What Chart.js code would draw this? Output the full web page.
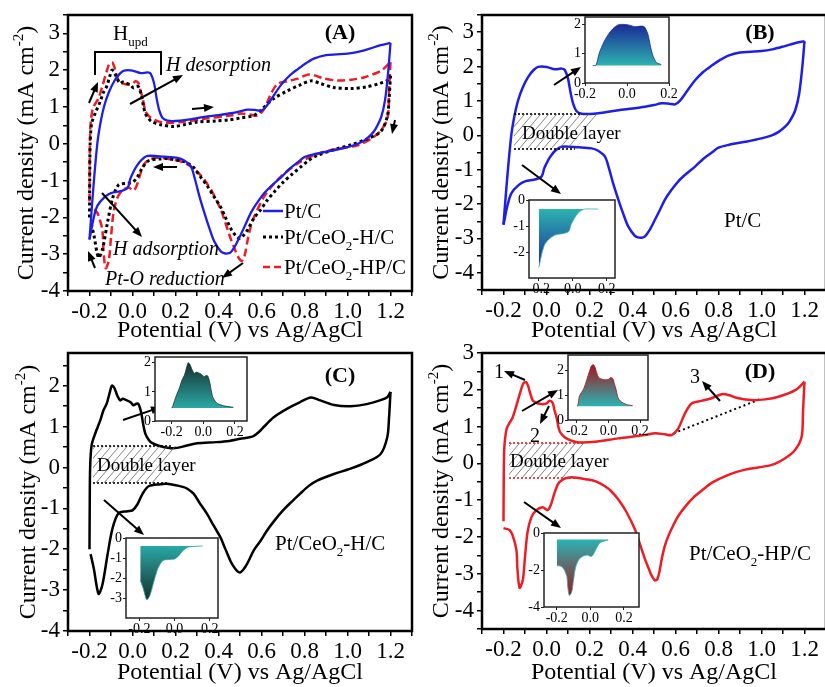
<!DOCTYPE html>
<html>
<head>
<meta charset="utf-8">
<script src="https://cdn.jsdelivr.net/npm/chart.js@4.4.1/dist/chart.umd.min.js"></script>
<style>
html,body{margin:0;padding:0;background:#fff;}
body{width:825px;height:687px;overflow:hidden;position:relative;}
canvas{position:absolute;}
</style>
</head>
<body>
<canvas id="cA"></canvas>
<canvas id="cB"></canvas>
<canvas id="cC"></canvas>
<canvas id="cD"></canvas>
<canvas id="iB1"></canvas>
<canvas id="iB2"></canvas>
<canvas id="iC1"></canvas>
<canvas id="iC2"></canvas>
<canvas id="iD1"></canvas>
<canvas id="iD2"></canvas>
<script>
// ---------------- DATA (potential E in V vs Ag/AgCl, current density J in mA cm^-2) ----------------
// Pt/C : anodic (forward) scan
const ptcFwdE = [-0.2,-0.19,-0.178,-0.163,-0.148,-0.132,-0.11,-0.085,-0.06,-0.039,0.0,0.039,0.07,0.085,0.1,0.113,0.125,0.14,0.163,0.2,0.25,0.334,0.4,0.458,0.5,0.536,0.57,0.598,0.62,0.645,0.691,0.73,0.769,0.81,0.846,0.9,0.95,1.0,1.05,1.1,1.155,1.2];
const ptcFwdJ = [-2.6,-1.8,-0.9,0.04,0.6,1.02,1.4,1.7,1.9,1.99,1.99,1.92,1.94,1.9,1.65,1.21,0.9,0.7,0.63,0.62,0.65,0.73,0.78,0.83,0.88,0.93,0.92,0.9,1.0,1.21,1.6,1.85,2.03,2.2,2.32,2.41,2.43,2.45,2.5,2.58,2.68,2.74];
// Pt/C : cathodic (reverse) scan
const ptcRevE = [1.2,1.19,1.175,1.157,1.13,1.11,1.08,1.048,1.0,0.924,0.846,0.8,0.769,0.73,0.691,0.65,0.613,0.58,0.551,0.525,0.505,0.48,0.458,0.443,0.425,0.41,0.38,0.355,0.334,0.31,0.29,0.272,0.24,0.21,0.15,0.07,0.04,0.02,0.008,-0.01,-0.023,-0.05,-0.1,-0.13,-0.163,-0.18,-0.2];
const ptcRevJ = [2.74,2.0,1.2,0.73,0.4,0.25,0.1,0.0,-0.09,-0.19,-0.28,-0.36,-0.5,-0.68,-0.91,-1.12,-1.34,-1.6,-1.87,-2.2,-2.45,-2.75,-2.94,-2.98,-2.97,-2.92,-2.65,-2.25,-1.87,-1.4,-0.95,-0.62,-0.45,-0.38,-0.35,-0.33,-0.45,-0.6,-0.72,-0.95,-1.2,-1.28,-1.34,-1.45,-1.68,-2.0,-2.6];
// Pt/CeO2-H/C
const hcFwdE = [-0.2,-0.199,-0.197,-0.19,-0.172,-0.15,-0.135,-0.12,-0.105,-0.096,-0.085,-0.07,-0.057,-0.045,-0.034,-0.01,0.005,0.018,0.028,0.04,0.05,0.06,0.075,0.09,0.13,0.19,0.25,0.3,0.39,0.45,0.5,0.56,0.59,0.61,0.657,0.72,0.78,0.83,0.874,0.937,1.014,1.09,1.15,1.185,1.2];
const hcFwdJ = [-2.0,-1.0,0.0,0.55,0.85,1.15,1.4,1.56,1.85,2.0,1.95,1.75,1.64,1.68,1.66,1.6,1.52,1.56,1.55,1.35,1.05,0.82,0.68,0.6,0.52,0.47,0.53,0.59,0.62,0.65,0.7,0.76,0.88,0.99,1.23,1.44,1.6,1.71,1.64,1.53,1.5,1.55,1.64,1.72,1.85];
const hcRevE = [1.2,1.193,1.185,1.154,1.09,1.014,0.937,0.859,0.82,0.78,0.74,0.7,0.66,0.626,0.595,0.564,0.533,0.515,0.5,0.486,0.47,0.455,0.43,0.409,0.375,0.346,0.31,0.284,0.255,0.238,0.16,0.13,0.075,0.046,0.023,0.0,-0.023,-0.065,-0.093,-0.116,-0.14,-0.158,-0.18,-0.195];
const hcRevJ = [1.85,1.2,0.74,0.33,0.13,-0.03,-0.16,-0.32,-0.45,-0.64,-0.84,-1.05,-1.3,-1.54,-1.8,-2.03,-2.36,-2.5,-2.57,-2.53,-2.42,-2.28,-1.97,-1.71,-1.4,-1.13,-0.85,-0.64,-0.52,-0.48,-0.4,-0.41,-0.46,-0.65,-0.9,-1.05,-1.07,-1.12,-1.49,-2.13,-2.87,-3.09,-2.47,-2.12];
// Pt/CeO2-HP/C
const hpFwdE = [-0.2,-0.199,-0.197,-0.194,-0.185,-0.172,-0.158,-0.14,-0.12,-0.108,-0.095,-0.085,-0.079,-0.065,-0.05,-0.033,-0.015,0.0,0.014,0.028,0.037,0.047,0.06,0.075,0.093,0.12,0.153,0.225,0.334,0.458,0.505,0.551,0.582,0.613,0.644,0.675,0.72,0.768,0.815,0.846,0.893,0.955,1.017,1.079,1.157,1.2];
const hpFwdJ = [-1.57,-0.5,0.3,0.6,0.95,1.1,1.24,1.57,1.97,2.17,2.21,2.1,1.97,1.72,1.65,1.62,1.61,1.63,1.7,1.65,1.45,1.24,0.89,0.76,0.68,0.61,0.57,0.59,0.68,0.77,0.82,0.79,0.77,0.95,1.36,1.63,1.7,1.77,1.88,1.86,1.77,1.72,1.74,1.81,1.99,2.22];
const hpRevE = [1.2,1.193,1.187,1.157,1.11,1.048,0.924,0.846,0.768,0.73,0.69,0.65,0.613,0.59,0.567,0.55,0.536,0.525,0.515,0.505,0.489,0.475,0.458,0.435,0.411,0.37,0.334,0.3,0.272,0.235,0.194,0.107,0.06,0.037,0.02,0.005,-0.018,-0.047,-0.07,-0.088,-0.1,-0.11,-0.125,-0.135,-0.14,-0.158,-0.172,-0.2];
const hpRevJ = [2.22,1.4,0.73,0.37,0.14,-0.04,-0.17,-0.31,-0.53,-0.7,-0.89,-1.14,-1.43,-1.68,-1.97,-2.25,-2.6,-2.95,-3.15,-3.18,-3.05,-2.85,-2.6,-2.2,-1.79,-1.3,-0.98,-0.75,-0.62,-0.5,-0.44,-0.38,-0.51,-0.81,-1.13,-1.27,-1.19,-1.27,-1.46,-1.86,-2.54,-3.16,-3.38,-2.89,-2.35,-1.95,-1.81,-1.76];
// baseline guide (peak 3) in panel D
const hpBaseE = [0.57, 1.0];
const hpBaseJ = [0.77, 1.76];
// tick labels
const mainXTickLabels = ['-0.2','0.0','0.2','0.4','0.6','0.8','1.0','1.2'];
const insetXTicks = [-0.2, 0.0, 0.2];

// ---------------- helpers ----------------
const FONT = "'Liberation Serif','Times New Roman',serif";
const BLUE = '#1e1ee8', RED = '#ee1c24', BLACK = '#000000';

function pts(E, J) { return E.map((e, i) => ({ x: e, y: J[i] })); }

function rich(ctx, x, cy, segs, size, style, align) {
  const f = s => (style ? style + ' ' : '') + s + 'px ' + FONT;
  let w = 0;
  const parts = segs.map(([t, k]) => {
    const s = k ? Math.round(size * 0.62) : size;
    ctx.font = f(s);
    const tw = ctx.measureText(t).width;
    w += tw;
    return { t, k, s, tw };
  });
  let cx = align === 'center' ? x - w / 2 : x;
  const base = cy + size * 0.34;
  ctx.textBaseline = 'alphabetic'; ctx.textAlign = 'left'; ctx.fillStyle = '#000';
  for (const p of parts) {
    ctx.font = f(p.s);
    const dy = p.k === 1 ? size * 0.28 : (p.k === 2 ? -size * 0.42 : 0);
    ctx.fillText(p.t, cx, base + dy);
    cx += p.tw;
  }
}

function arrow(ctx, x1, y1, x2, y2) {
  const a = Math.atan2(y2 - y1, x2 - x1), head = 10, hw = 4;
  ctx.save();
  ctx.setLineDash([]);
  ctx.strokeStyle = '#000'; ctx.fillStyle = '#000'; ctx.lineWidth = 2;
  ctx.beginPath(); ctx.moveTo(x1, y1); ctx.lineTo(x2 - head * 0.8 * Math.cos(a), y2 - head * 0.8 * Math.sin(a)); ctx.stroke();
  ctx.beginPath();
  ctx.moveTo(x2, y2);
  ctx.lineTo(x2 - head * Math.cos(a) + hw * Math.sin(a), y2 - head * Math.sin(a) - hw * Math.cos(a));
  ctx.lineTo(x2 - head * Math.cos(a) - hw * Math.sin(a), y2 - head * Math.sin(a) + hw * Math.cos(a));
  ctx.closePath(); ctx.fill();
  ctx.restore();
}

function hatch(ctx, L, top, bottom, Rtop, Rbot) {
  ctx.save();
  ctx.beginPath();
  ctx.moveTo(L, bottom); ctx.lineTo(Rbot, bottom); ctx.lineTo(Rtop, top); ctx.lineTo(L, top); ctx.closePath();
  ctx.clip();
  ctx.strokeStyle = '#666'; ctx.lineWidth = 0.8; ctx.setLineDash([]);
  const h = bottom - top;
  for (let x = L - h; x < Rtop + 10; x += 8) {
    ctx.beginPath(); ctx.moveTo(x, bottom); ctx.lineTo(x + h * 0.85, top); ctx.stroke();
  }
  ctx.restore();
}

function hline(ctx, x1, x2, y, color) {
  ctx.save(); ctx.strokeStyle = color; ctx.lineWidth = 1.6; ctx.setLineDash([2, 2]);
  ctx.beginPath(); ctx.moveTo(x1, y); ctx.lineTo(x2, y); ctx.stroke(); ctx.restore();
}

function legendLine(ctx, x1, x2, y, color, dash, w) {
  ctx.save(); ctx.strokeStyle = color; ctx.lineWidth = w; ctx.setLineDash(dash);
  ctx.beginPath(); ctx.moveTo(x1, y); ctx.lineTo(x2, y); ctx.stroke(); ctx.restore();
}

function yTitle(ctx, x, cy) {
  ctx.save(); ctx.translate(x, cy); ctx.rotate(-Math.PI / 2);
  rich(ctx, 0, 0, [['Current density (mA cm', 0], ['-2', 2], [')', 0]], 24, '', 'center');
  ctx.restore();
}
function xTitle(ctx, cx, cy) {
  rich(ctx, cx, cy, [['Potential (V) vs Ag/AgCl', 0]], 24, '', 'center');
}

function lineDs(E, J, color, width, dash) {
  return { data: pts(E, J), showLine: true, borderColor: color, borderWidth: width, borderDash: dash || [],
           pointRadius: 0, pointHoverRadius: 0, tension: 0.3, fill: false, borderCapStyle: 'butt', borderJoinStyle: 'round' };
}

const framePlugin = {
  id: 'frame',
  afterDatasetsDraw(ch) {
    const a = ch.chartArea, c = ch.ctx;
    c.save(); c.strokeStyle = '#000'; c.lineWidth = 2.5; c.setLineDash([]);
    c.strokeRect(a.left, a.top, a.right - a.left, a.bottom - a.top); c.restore();
  }
};

function xLab(v) {
  const k = Math.round(v * 10);
  if (k % 2 !== 0 || k < -2 || k > 12) return '';
  return mainXTickLabels[(k + 2) / 2];
}
function yLab(v) {
  const r = Math.round(v);
  return Math.abs(v - r) < 1e-6 ? String(r === 0 ? 0 : r) : '';
}

function makeMain(id, p) {
  const el = document.getElementById(id);
  el.width = p.w; el.height = p.h;
  el.style.left = p.left + 'px'; el.style.top = p.top + 'px';
  const grid = { display: true, drawOnChartArea: false, drawTicks: true, tickLength: 5, color: '#000', lineWidth: 1.5 };
  return new Chart(el, {
    type: 'scatter',
    data: { datasets: p.datasets },
    options: {
      responsive: false, animation: false, devicePixelRatio: 1,
      layout: { padding: { top: p.padTop, right: p.padRight, left: 0, bottom: 0 } },
      plugins: { legend: { display: false }, tooltip: { enabled: false }, title: { display: false } },
      scales: {
        x: {
          type: 'linear', min: -0.3, max: 1.3, position: 'bottom',
          afterFit: s => { s.height = p.xH; s.paddingLeft = 0; s.paddingRight = 0; },
          ticks: { stepSize: 0.1, autoSkip: false, maxRotation: 0, minRotation: 0, includeBounds: false,
                   color: '#000', font: { family: FONT, size: 23 }, padding: 2, callback: xLab },
          grid: grid, border: { display: false }
        },
        y: {
          type: 'linear', min: p.yMin, max: p.yMax, position: 'left',
          afterFit: s => { s.width = p.yW; s.paddingTop = 0; s.paddingBottom = 0; },
          ticks: { stepSize: 0.5, autoSkip: false, includeBounds: false,
                   color: '#000', font: { family: FONT, size: 23 }, padding: 3, callback: yLab },
          grid: grid, border: { display: false }
        }
      }
    },
    plugins: [framePlugin, {
      id: 'ann',
      afterDraw(ch) {
        const c = ch.ctx; c.save(); c.translate(-p.left, -p.top);
        const a = ch.chartArea;
        yTitle(c, p.titleX, p.top + (a.top + a.bottom) / 2);
        xTitle(c, p.left + (a.left + a.right) / 2, p.titleY);
        p.ann(c);
        c.restore();
      }
    }]
  });
}

// inset: filled region of a scan branch between x0..x1, clipped to baseline
function segment(E, J, x0, x1, base, above) {
  const out = [];
  E.forEach((e, i) => {
    if (e >= x0 && e <= x1) out.push({ x: e, y: above ? Math.max(J[i], base) : Math.min(J[i], base) });
  });
  return out;
}

function makeInset(id, s) {
  const padL = 26, padT = 7, padR = 14, padB = 22;
  const el = document.getElementById(id);
  el.width = (s.R - s.L) + padL + padR; el.height = (s.B - s.T) + padT + padB;
  el.style.left = (s.L - padL) + 'px'; el.style.top = (s.T - padT) + 'px';
  const grid = { display: true, drawOnChartArea: false, drawTicks: true, tickLength: 3, color: '#222', lineWidth: 1 };
  return new Chart(el, {
    type: 'scatter',
    data: { datasets: [{
      data: s.data, showLine: true, pointRadius: 0, tension: 0.25,
      borderWidth: 0.8, borderColor: s.above ? s.dark : s.teal,
      fill: { value: s.base },
      backgroundColor: ctx => {
        const ch = ctx.chart;
        if (!ch.chartArea || !ch.scales.y) return s.teal;
        const ys = ch.scales.y;
        const ext = s.above ? Math.max(...s.data.map(d => d.y)) : Math.min(...s.data.map(d => d.y));
        const g = ch.ctx.createLinearGradient(0, ys.getPixelForValue(ext), 0, ys.getPixelForValue(s.base));
        g.addColorStop(0, s.dark); g.addColorStop(1, s.teal);
        return g;
      }
    }] },
    options: {
      responsive: false, animation: false, devicePixelRatio: 1,
      layout: { padding: { top: padT, right: padR, left: 0, bottom: 0 } },
      plugins: { legend: { display: false }, tooltip: { enabled: false } },
      scales: {
        x: { type: 'linear', min: s.xr[0], max: s.xr[1],
             afterFit: a => { a.height = padB; a.paddingLeft = 0; a.paddingRight = 0; },
             afterBuildTicks: a => { a.ticks = insetXTicks.map(v => ({ value: v })); },
             ticks: { autoSkip: false, maxRotation: 0, color: '#000', font: { family: FONT, size: 14 }, padding: 0,
                      callback: v => (Math.abs(v) < 1e-9 ? '0.0' : v.toFixed(1)) },
             grid: grid, border: { display: false } },
        y: { type: 'linear', min: s.yr[0], max: s.yr[1],
             afterFit: a => { a.width = padL; a.paddingTop = 0; a.paddingBottom = 0; },
             afterBuildTicks: a => { a.ticks = s.yT.map(v => ({ value: v })); },
             ticks: { autoSkip: false, color: '#000', font: { family: FONT, size: 14 }, padding: 1,
                      callback: v => String(v) },
             grid: grid, border: { display: false } }
      }
    },
    plugins: [{
      id: 'bg',
      beforeDatasetsDraw(ch) { const a = ch.chartArea, c = ch.ctx; c.save(); c.fillStyle = '#fff'; c.fillRect(a.left, a.top, a.right - a.left, a.bottom - a.top); c.restore(); },
      afterDatasetsDraw(ch) { const a = ch.chartArea, c = ch.ctx; c.save(); c.strokeStyle = '#222'; c.lineWidth = 1.5; c.strokeRect(a.left, a.top, a.right - a.left, a.bottom - a.top); c.restore(); }
    }]
  });
}

// ---------------- Panel A ----------------
makeMain('cA', {
  left: 0, top: 0, w: 420, h: 345, padTop: 15, padRight: 8, yW: 68, xH: 54, yMin: -4, yMax: 3.5,
  titleX: 25, titleY: 329,
  datasets: [
    lineDs(ptcFwdE, ptcFwdJ, BLUE, 2.3), lineDs(ptcRevE, ptcRevJ, BLUE, 2.3),
    lineDs(hcFwdE, hcFwdJ, BLACK, 3, [3, 3]), lineDs(hcRevE, hcRevJ, BLACK, 3, [3, 3]),
    lineDs(hpFwdE, hpFwdJ, RED, 2.5, [8, 4]), lineDs(hpRevE, hpRevJ, RED, 2.5, [8, 4])
  ],
  ann(ctx) {
    rich(ctx, 340, 32, [['(A)', 0]], 22, 'bold', 'center');
    rich(ctx, 113, 33, [['H', 0], ['upd', 1]], 21, '', 'left');
    ctx.save(); ctx.strokeStyle = '#000'; ctx.lineWidth = 2; ctx.setLineDash([]);
    ctx.beginPath(); ctx.moveTo(95, 75); ctx.lineTo(95, 52); ctx.lineTo(161, 52); ctx.lineTo(161, 75); ctx.stroke(); ctx.restore();
    rich(ctx, 166, 64, [['H desorption', 0]], 20, 'italic', 'left');
    arrow(ctx, 130, 104, 183, 75);
    arrow(ctx, 192, 109, 214, 107);
    arrow(ctx, 89, 103, 98, 82);
    arrow(ctx, 395, 120, 392, 134);
    arrow(ctx, 177, 167, 153, 167);
    arrow(ctx, 102, 193, 142, 237);
    arrow(ctx, 95, 268, 88, 251);
    arrow(ctx, 243, 263, 222, 278);
    rich(ctx, 113, 248, [['H adsorption', 0]], 20, 'italic', 'left');
    rich(ctx, 105, 278, [['Pt-O reduction', 0]], 20, 'italic', 'left');
    legendLine(ctx, 263, 283, 211, BLUE, [], 2.5);
    rich(ctx, 284, 211, [['Pt/C', 0]], 21, '', 'left');
    legendLine(ctx, 263, 283, 237, BLACK, [3, 3], 3);
    rich(ctx, 284, 237, [['Pt/CeO', 0], ['2', 1], ['-H/C', 0]], 21, '', 'left');
    legendLine(ctx, 263, 283, 267, RED, [7, 4], 2.5);
    rich(ctx, 284, 267, [['Pt/CeO', 0], ['2', 1], ['-HP/C', 0]], 21, '', 'left');
  }
});

// ---------------- Panel B ----------------
makeMain('cB', {
  left: 412, top: 0, w: 420, h: 345, padTop: 15, padRight: 6, yW: 70, xH: 55, yMin: -4.5, yMax: 3.5,
  titleX: 440, titleY: 329,
  datasets: [lineDs(ptcFwdE, ptcFwdJ, BLUE, 2.5), lineDs(ptcRevE, ptcRevJ, BLUE, 2.5)],
  ann(ctx) {
    rich(ctx, 760, 32, [['(B)', 0]], 22, 'bold', 'center');
    hatch(ctx, 514, 114, 149, 602, 575);
    hline(ctx, 514, 582, 114, '#000');
    hline(ctx, 514, 575, 149, '#000');
    rich(ctx, 522, 133, [['Double layer', 0]], 19, '', 'left');
    arrow(ctx, 554, 85, 581, 67);
    arrow(ctx, 522, 165, 561, 194);
    rich(ctx, 724, 220, [['Pt/C', 0]], 21, '', 'left');
  }
});

// ---------------- Panel C ----------------
makeMain('cC', {
  left: 0, top: 343, w: 420, h: 344, padTop: 10, padRight: 8, yW: 68, xH: 56, yMin: -4, yMax: 2.8,
  titleX: 27, titleY: 671,
  datasets: [lineDs(hcFwdE, hcFwdJ, BLACK, 2.5), lineDs(hcRevE, hcRevJ, BLACK, 2.5)],
  ann(ctx) {
    rich(ctx, 340, 375, [['(C)', 0]], 22, 'bold', 'center');
    hatch(ctx, 93, 446, 483, 178, 157);
    hline(ctx, 93, 172, 446, '#000');
    hline(ctx, 93, 167, 483, '#000');
    rich(ctx, 97, 465, [['Double layer', 0]], 19, '', 'left');
    arrow(ctx, 123, 420, 161, 407);
    arrow(ctx, 104, 500, 144, 535);
    rich(ctx, 275, 543, [['Pt/CeO', 0], ['2', 1], ['-H/C', 0]], 21, '', 'left');
  }
});

// ---------------- Panel D ----------------
makeMain('cD', {
  left: 412, top: 343, w: 420, h: 344, padTop: 10, padRight: 6, yW: 70, xH: 58, yMin: -4.5, yMax: 3,
  titleX: 440, titleY: 671,
  datasets: [
    lineDs(hpFwdE, hpFwdJ, RED, 2.5), lineDs(hpRevE, hpRevJ, RED, 2.5),
    Object.assign(lineDs(hpBaseE, hpBaseJ, BLACK, 2, [2, 3]), { tension: 0 })
  ],
  ann(ctx) {
    rich(ctx, 760, 371, [['(D)', 0]], 22, 'bold', 'center');
    rich(ctx, 499, 371, [['1', 0]], 20, '', 'center');
    arrow(ctx, 525, 380, 504, 371);
    rich(ctx, 535, 435, [['2', 0]], 20, '', 'center');
    arrow(ctx, 549, 406, 540, 424);
    arrow(ctx, 522, 411, 558, 390);
    rich(ctx, 695, 376, [['3', 0]], 20, '', 'center');
    arrow(ctx, 720, 401, 702, 381);
    hatch(ctx, 509, 443, 478, 585, 569);
    hline(ctx, 509, 585, 443, RED);
    hline(ctx, 509, 575, 478, RED);
    rich(ctx, 510, 461, [['Double layer', 0]], 19, '', 'left');
    arrow(ctx, 524, 502, 561, 528);
    rich(ctx, 689, 553, [['Pt/CeO', 0], ['2', 1], ['-HP/C', 0]], 21, '', 'left');
  }
});

// ---------------- Insets ----------------
makeInset('iB1', { L: 585, T: 17, R: 669, B: 83, xr: [-0.2, 0.2], yr: [0, 2.25], yT: [0, 1, 2],
  data: segment(ptcFwdE, ptcFwdJ, -0.165, 0.17, 0.6, true), base: 0.6, above: true, dark: '#1b2a96', teal: '#2cb3b0' });
makeInset('iB2', { L: 529, T: 200, R: 615, B: 278, xr: [-0.258, 0.249], yr: [-3, 0], yT: [0, -1, -2],
  data: segment(ptcRevE, ptcRevJ, -0.2, 0.16, -0.35, false), base: -0.35, above: false, dark: '#1b2a96', teal: '#2cb3b0' });
makeInset('iC1', { L: 155, T: 357, R: 247, B: 421, xr: [-0.305, 0.276], yr: [0, 2.2], yT: [0, 1, 2],
  data: segment(hcFwdE, hcFwdJ, -0.2, 0.19, 0.45, true), base: 0.45, above: true, dark: '#16302e', teal: '#2aa8a5' });
makeInset('iC2', { L: 126, T: 538, R: 218, B: 618, xr: [-0.276, 0.247], yr: [-4, 0], yT: [0, -1, -2, -3],
  data: segment(hcRevE, hcRevJ, -0.2, 0.16, -0.4, false), base: -0.4, above: false, dark: '#16302e', teal: '#2aa8a5' });
makeInset('iD1', { L: 568, T: 355, R: 648, B: 420, xr: [-0.257, 0.25], yr: [0, 2.6], yT: [0, 1, 2],
  data: segment(hpFwdE, hpFwdJ, -0.2, 0.17, 0.55, true), base: 0.55, above: true, dark: '#a3161c', teal: '#2ab3b3' });
makeInset('iD2', { L: 544, T: 533, R: 639, B: 607, xr: [-0.276, 0.29], yr: [-4, 0], yT: [0, -2, -4],
  data: segment(hpRevE, hpRevJ, -0.2, 0.15, -0.35, false), base: -0.35, above: false, dark: '#a3161c', teal: '#2ab3b3' });
</script>
</body>
</html>
